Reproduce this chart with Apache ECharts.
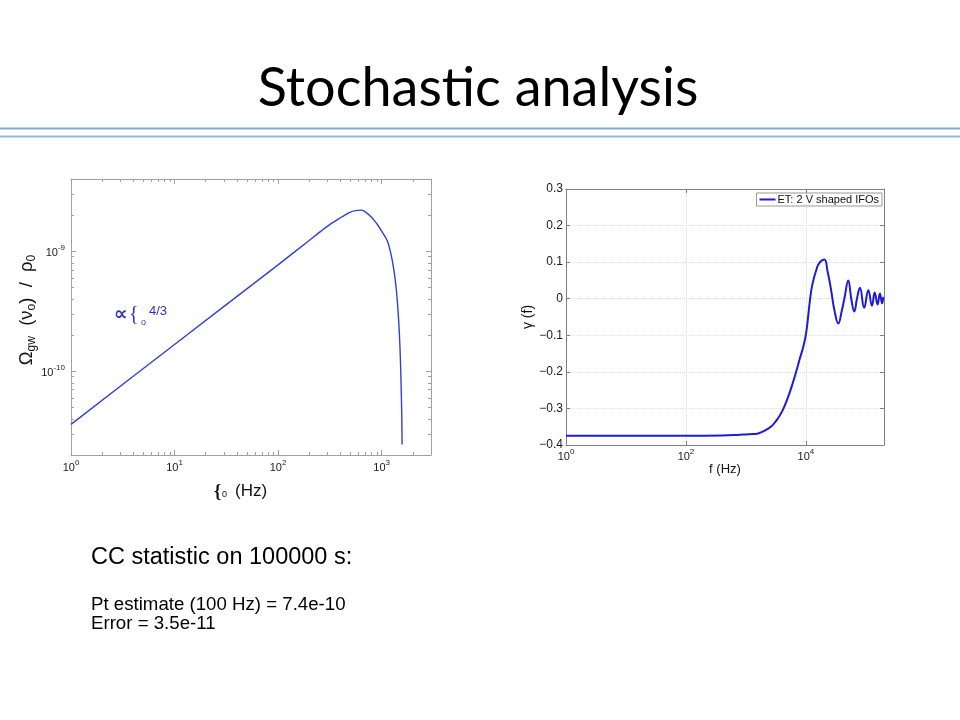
<!DOCTYPE html>
<html>
<head>
<meta charset="utf-8">
<script src="https://cdn.jsdelivr.net/npm/echarts@6/dist/echarts.min.js"></script>
<style>html,body{margin:0;padding:0;background:#fff}#c{width:960px;height:720px}</style>
</head>
<body>
<div id="c"></div>
<script>
// ---- Left panel: GW energy density spectrum (log-log) ----
const spectrumFreq  = [1, 10, 100, 200, 260, 320, 400, 450, 500, 560, 630, 680, 800, 910, 1000, 1140, 1270, 1370, 1450, 1505, 1540, 1565, 1578];
const spectrumOmega = [3.6e-11, 1.67e-10, 7.7e-10, 1.23e-9, 1.47e-9, 1.68e-9, 1.90e-9, 2.02e-9, 2.12e-9, 2.18e-9, 2.20e-9, 2.16e-9, 1.92e-9, 1.67e-9, 1.47e-9, 1.21e-9, 8.3e-10, 5.3e-10, 2.96e-10, 1.57e-10, 8.3e-11, 4.4e-11, 2.45e-11];
const leftXExponents = ['0', '1', '2', '3'];
const leftYExponents = ['-10', '-9'];

// ---- Right panel: overlap reduction function ----
const overlapFreq  = [1, 100, 398, 787, 1000, 1309, 1500, 1690, 1900, 2200, 2500, 2812, 3390, 4121, 5010, 6039, 7000, 7798, 9000, 10070, 11750, 12823, 14962, 16788, 20277, 22909, 26182, 29717, 34674, 39355, 43652, 50816, 56885, 63973, 70795, 79433, 93325, 109648, 125893, 140000, 156000, 171000, 186000, 195000];
const overlapGamma = [-0.375, -0.375, -0.374, -0.372, -0.371, -0.370, -0.369, -0.367, -0.3635, -0.358, -0.352, -0.345, -0.328, -0.304, -0.270, -0.230, -0.195, -0.167, -0.132, -0.094, 0.000, 0.040, 0.080, 0.098, 0.107, 0.075, 0.025, -0.030, -0.068, -0.035, 0.000, 0.050, 0.000, -0.035, 0.000, 0.030, -0.025, 0.023, -0.019, 0.017, -0.016, 0.014, -0.013, 0.005];
const rightXExponents = ['0', '2', '4'];
const rightYTickLabels = ['\u22120.4', '\u22120.3', '\u22120.2', '\u22120.1', '0', '0.1', '0.2', '0.3'];
const legendName = 'ET: 2 V shaped IFOs';

const chart = echarts.init(document.getElementById('c'), null, {renderer: 'canvas'});

function powFormatter(exps) {
  return function (v) {
    const e = Math.log10(v);
    const r = Math.round(e);
    if (Math.abs(e - r) > 1e-6) return '';
    const s = String(r);
    if (exps.indexOf(s) < 0) return '';
    return '{b|10}{sup|' + s + '}';
  };
}
const FONT = 'Liberation Sans';
const powRich = {
  b: {fontSize: 11, fontFamily: FONT, color: '#1a1a1a', padding: [3, 0, 0, 0]},
  sup: {fontSize: 8, fontFamily: FONT, color: '#1a1a1a', verticalAlign: 'top'}
};
const L_AX = '#a0a0a0';
const R_AX = '#808080';

const leftX = (pos, show) => ({
  type: 'log', gridIndex: 0, logBase: 10, min: 1, max: 3000, interval: 1, position: pos,
  axisLine: {show: true, onZero: false, lineStyle: {color: L_AX, width: 1}},
  axisTick: {show: true, inside: true, length: 5, lineStyle: {color: L_AX}},
  minorTick: {show: true, splitNumber: 9, length: 3, lineStyle: {color: L_AX}},
  splitLine: {show: false}, minorSplitLine: {show: false},
  axisLabel: {show: show, margin: 4, formatter: powFormatter(leftXExponents), rich: powRich}
});
const leftY = (pos, show) => ({
  type: 'log', gridIndex: 0, logBase: 10, min: 2e-11, max: 4e-9, position: pos,
  axisLine: {show: true, onZero: false, lineStyle: {color: L_AX, width: 1}},
  axisTick: {show: true, inside: true, length: 5, lineStyle: {color: L_AX}},
  minorTick: {show: true, splitNumber: 9, length: 3, lineStyle: {color: L_AX}},
  splitLine: {show: false}, minorSplitLine: {show: false},
  axisLabel: {show: show, margin: 6, showMinLabel: false, showMaxLabel: false, formatter: powFormatter(leftYExponents), rich: powRich}
});
const rightX = (pos, show) => ({
  type: 'log', gridIndex: 1, logBase: 10, min: 1, max: 2e5, interval: 2, position: pos,
  axisLine: {show: true, onZero: false, lineStyle: {color: R_AX, width: 1}},
  axisTick: {show: true, inside: true, length: 4, lineStyle: {color: R_AX}},
  splitLine: {show: show, lineStyle: {color: '#dcdcdc', type: 'dotted', width: 1}},
  axisLabel: {show: show, margin: 3, formatter: powFormatter(rightXExponents), rich: powRich}
});
const rightY = (pos, show) => ({
  type: 'value', gridIndex: 1, min: -0.4, max: 0.3, interval: 0.1, position: pos,
  axisLine: {show: true, onZero: false, lineStyle: {color: R_AX, width: 1}},
  axisTick: {show: true, inside: true, length: 4, lineStyle: {color: R_AX}},
  splitLine: {show: show, lineStyle: {color: '#dcdcdc', type: 'dotted', width: 1}},
  axisLabel: {show: show, margin: 3, fontSize: 12, fontFamily: FONT, color: '#1a1a1a',
    formatter: v => rightYTickLabels[Math.round((v + 0.4) * 10)] || ''}
});

const xl = leftX('bottom', true);
const yl = leftY('left', true);
yl.name = '{t|\u03A9}{s|gw}{t|  (\u03BD}{s|o}{t|)  /  \u03C1}{s|0}';
yl.nameLocation = 'middle';
yl.nameGap = 33;
yl.nameTextStyle = {padding: [0, 0, 0, 14], rich: {
  t: {fontSize: 18.5, fontFamily: FONT, color: '#111'},
  s: {fontSize: 12, fontFamily: FONT, color: '#111', padding: [9, 0, 0, 0]}
}};
const xr = rightX('bottom', true);
xr.name = 'f (Hz)';
xr.nameLocation = 'middle';
xr.nameGap = 15;
xr.nameTextStyle = {fontSize: 13, fontFamily: FONT, color: '#111'};
const yr = rightY('left', true);
yr.name = '\u03B3 (f)';
yr.nameLocation = 'middle';
yr.nameGap = 26;
yr.nameTextStyle = {fontSize: 14, fontFamily: FONT, color: '#111'};

const option = {
  animation: false,
  backgroundColor: '#ffffff',
  grid: [
    {left: 71, top: 179, width: 360, height: 276, containLabel: false, outerBoundsMode: 'none'},
    {left: 566, top: 189, width: 318, height: 256, containLabel: false, outerBoundsMode: 'none'}
  ],
  xAxis: [xl, leftX('top', false), xr, rightX('top', false)],
  yAxis: [yl, leftY('right', false), yr, rightY('right', false)],
  legend: {
    data: [legendName], right: 78, top: 193, selectedMode: false, icon: 'rect',
    backgroundColor: '#fff', borderColor: '#999', borderWidth: 1, borderRadius: 0,
    padding: [1, 3, 1, 3], itemWidth: 16, itemHeight: 2,
    textStyle: {fontSize: 11, fontFamily: FONT, color: '#111', padding: [0, 0, 0, -3]}
  },
  series: [
    {
      type: 'line', name: 'spectrum', xAxisIndex: 0, yAxisIndex: 0, symbol: 'none', smooth: 0.3, silent: true,
      lineStyle: {color: '#3340d0', width: 1.4},
      data: spectrumFreq.map((f, i) => [f, spectrumOmega[i]])
    },
    {
      type: 'line', name: legendName, xAxisIndex: 2, yAxisIndex: 2, symbol: 'none', smooth: 0.45, silent: true,
      lineStyle: {color: '#1c1cd6', width: 2}, itemStyle: {color: '#1c1cd6'},
      data: overlapFreq.map((f, i) => [f, overlapGamma[i]])
    }
  ],
  graphic: [
    {type: 'text', x: 478, y: 88.5, style: {text: 'Stochastic analysis', font: '54px Lato', fill: '#000', textAlign: 'center', textVerticalAlign: 'middle'}},
    {type: 'line', shape: {x1: 0, y1: 128.5, x2: 960, y2: 128.5}, style: {stroke: '#84a9d6', lineWidth: 1.8}},
    {type: 'line', shape: {x1: 0, y1: 136.5, x2: 960, y2: 136.5}, style: {stroke: '#93b6de', lineWidth: 1.8}},
    // annotation in left panel
    {type: 'text', x: 114, y: 315.5, style: {text: '\u221D', font: 'bold 19px "DejaVu Sans"', fill: '#2f2fc8', textVerticalAlign: 'middle'}},
    {type: 'text', x: 129, y: 315, style: {text: '{', font: '20px "Liberation Serif"', fill: '#2f2fc8', textVerticalAlign: 'middle'}},
    {type: 'text', x: 141, y: 322.5, style: {text: 'o', font: '9px "Liberation Sans"', fill: '#2f2fc8', textVerticalAlign: 'middle'}},
    {type: 'text', x: 149, y: 311, style: {text: '4/3', font: '13px "Liberation Sans"', fill: '#2f2fc8', textVerticalAlign: 'middle'}},
    // left x-axis name
    {type: 'text', x: 214, y: 492, style: {text: '{', font: 'bold 18px "Liberation Serif"', fill: '#111', textVerticalAlign: 'middle'}},
    {type: 'text', x: 222, y: 495, style: {text: '0', font: '9px "Liberation Sans"', fill: '#111', textVerticalAlign: 'middle'}},
    {type: 'text', x: 235, y: 491, style: {text: '(Hz)', font: '17px "Liberation Sans"', fill: '#111', textVerticalAlign: 'middle'}},
    // bottom texts
    {type: 'text', x: 91, y: 557.5, style: {text: 'CC statistic on 100000 s:', font: '23.5px "Liberation Sans"', fill: '#000', textVerticalAlign: 'middle'}},
    {type: 'text', x: 91, y: 605, style: {text: 'Pt estimate (100 Hz) = 7.4e-10', font: '18.67px "Liberation Sans"', fill: '#000', textVerticalAlign: 'middle'}},
    {type: 'text', x: 91, y: 624, style: {text: 'Error = 3.5e-11', font: '18.67px "Liberation Sans"', fill: '#000', textVerticalAlign: 'middle'}}
  ]
};
chart.setOption(option);
</script>
</body>
</html>
